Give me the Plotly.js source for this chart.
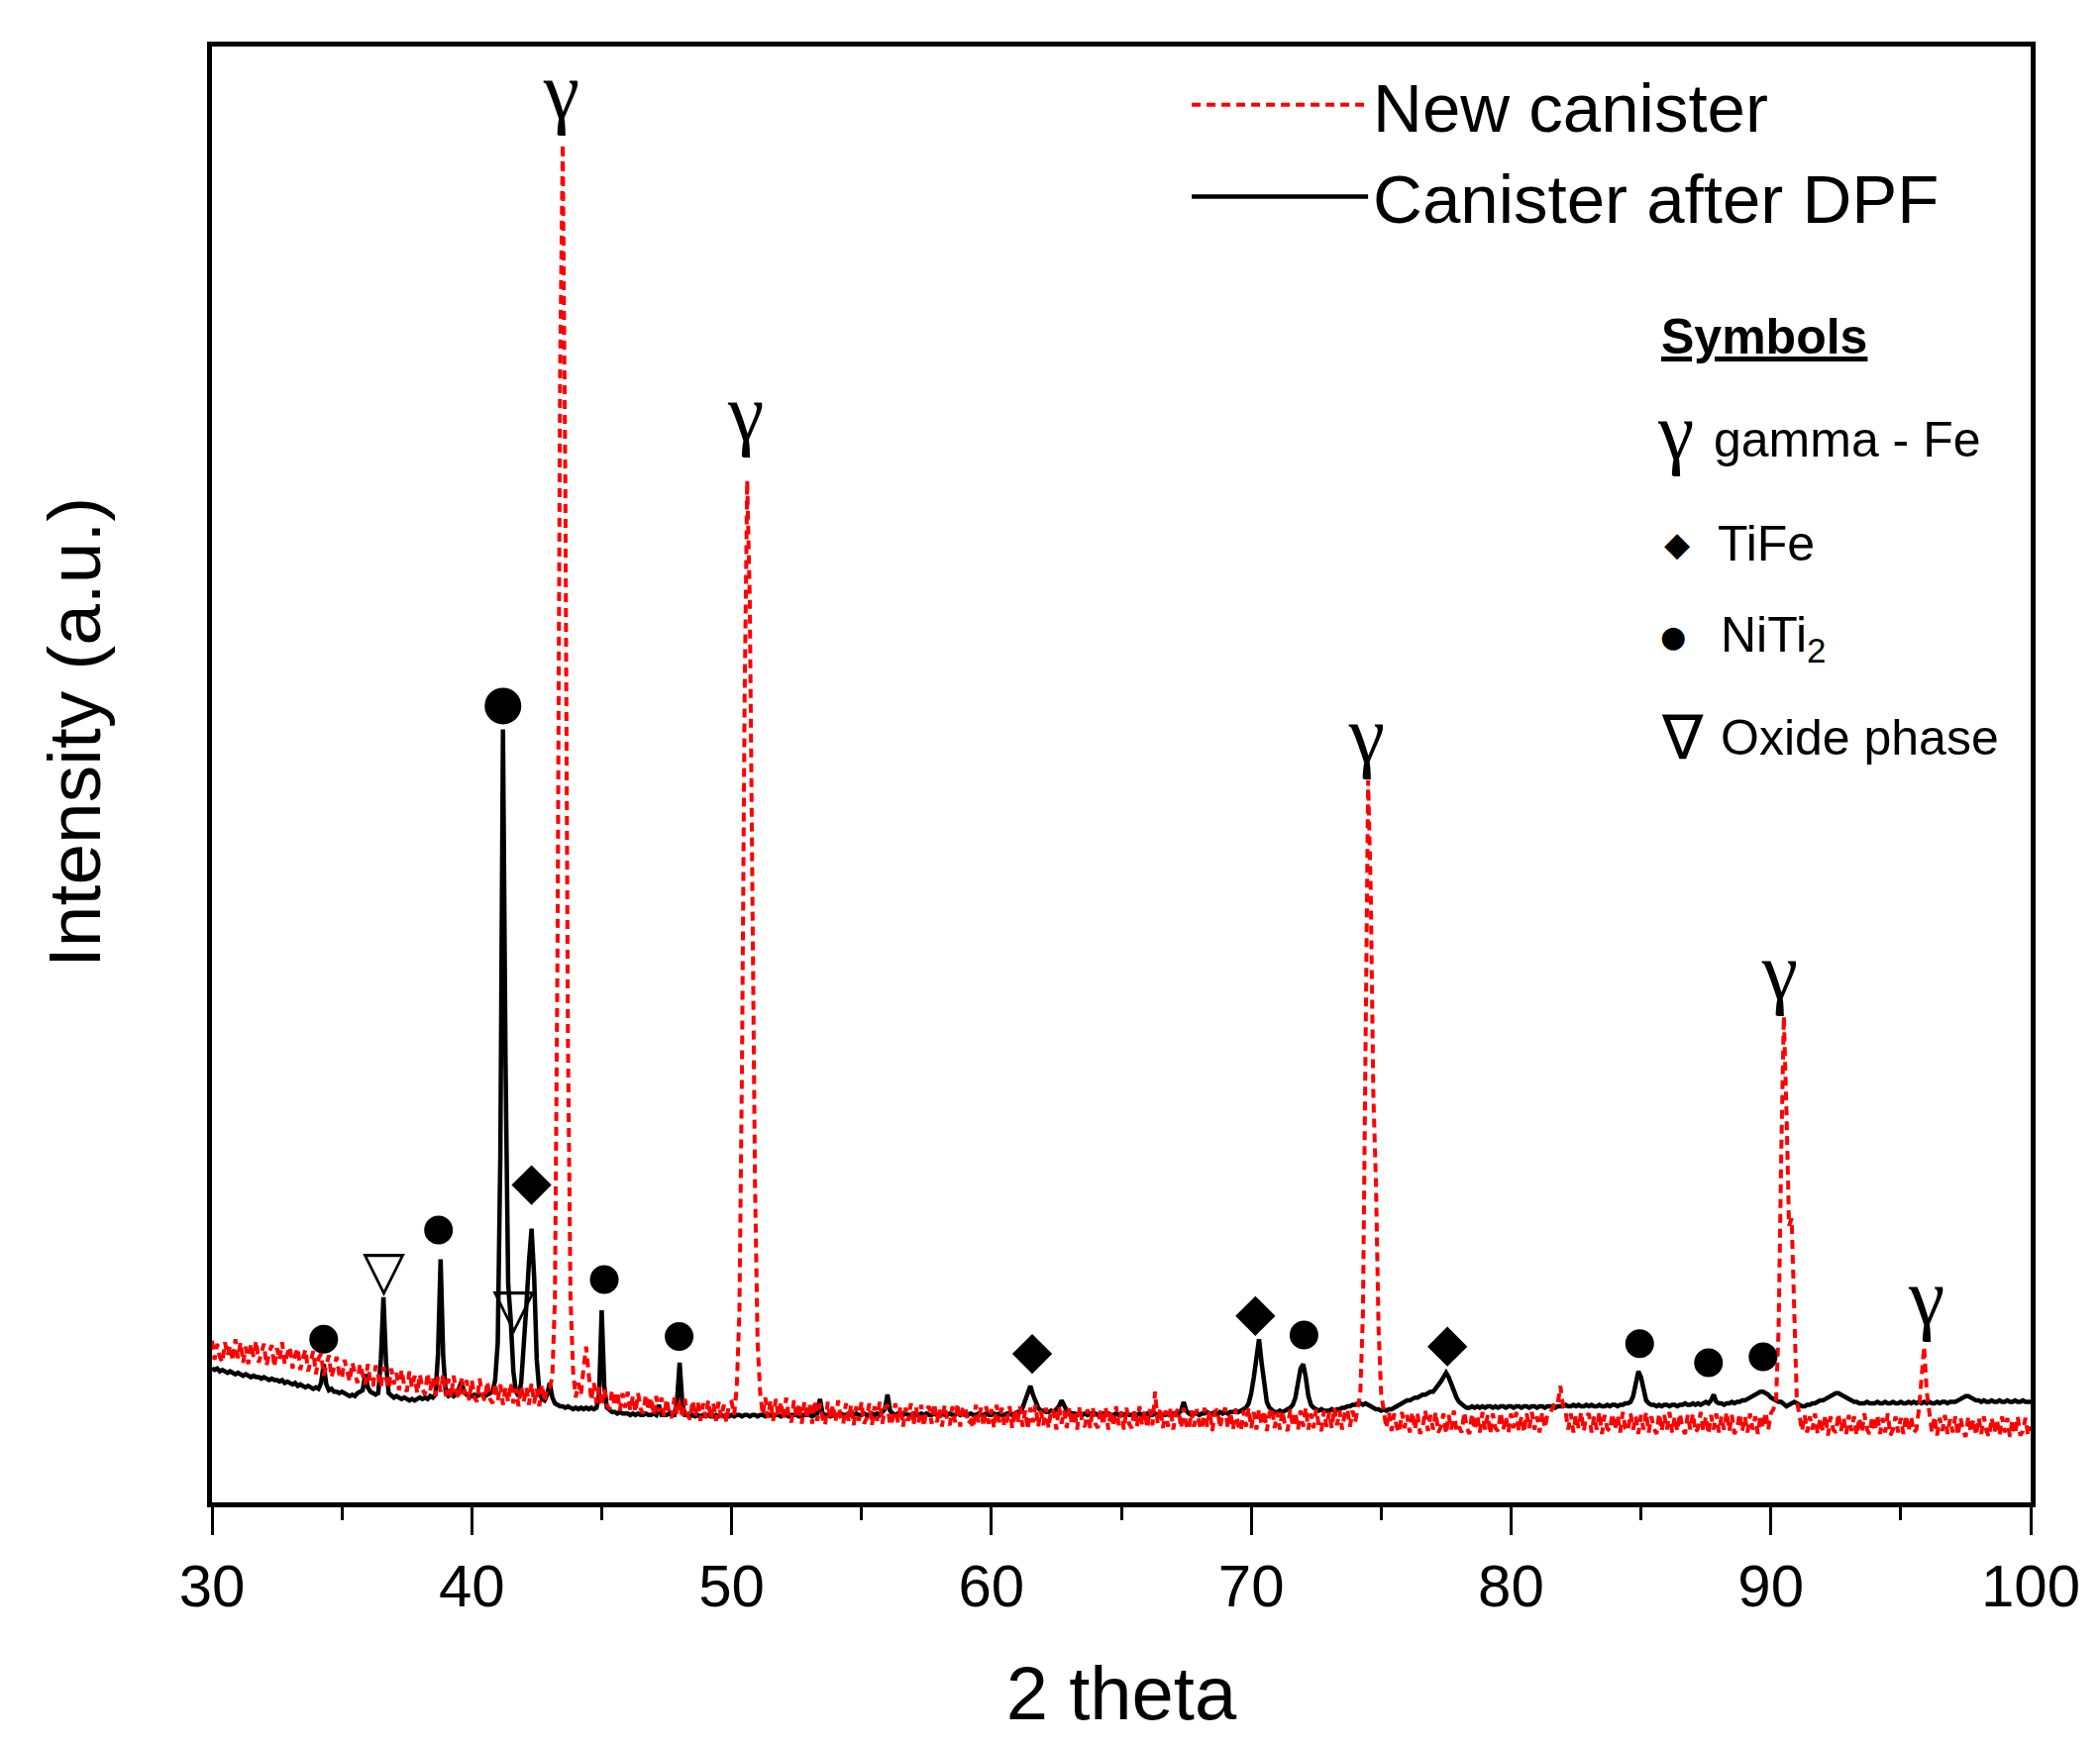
<!DOCTYPE html>
<html>
<head>
<meta charset="utf-8">
<script src="https://cdn.plot.ly/plotly-3.0.1.min.js"></script>
<style>
  html, body { margin: 0; padding: 0; background: #fff; }
  #chart { width: 2120px; height: 1763px; }
</style>
</head>
<body>
<div id="chart"></div>
<script>
// XRD scans, one intensity value (a.u.) every 0.1 deg of 2theta
const thetaStart = 30;
const thetaStep = 0.1;

const newCanisterY = [
  11.1,9.8,10.9,10.0,9.6,11.0,10.1,10.8,9.7,11.2,     // 30
  9.9,11.0,9.6,10.7,9.5,10.9,10.0,11.1,9.6,10.4,      // 31
  10.9,9.4,10.3,10.8,9.3,10.6,9.8,11.0,9.5,10.2,      // 32
  10.7,9.2,10.1,10.6,9.1,9.9,10.5,9.0,9.8,10.4,       // 33
  8.8,9.9,10.2,8.7,9.4,10.1,8.6,9.3,10.0,8.8,         // 34
  8.5,9.8,9.1,8.3,9.6,8.9,8.2,9.5,8.8,8.1,            // 35
  9.5,8.2,8.0,9.4,8.7,7.9,9.3,8.4,7.8,9.2,            // 36
  8.1,8.9,7.7,9.1,8.0,7.6,9.0,7.9,8.7,7.5,            // 37
  8.8,7.8,7.4,8.9,7.7,8.6,7.3,8.6,7.6,8.8,            // 38
  7.3,8.5,7.2,8.7,7.6,7.1,8.5,7.4,8.4,7.0,            // 39
  8.4,7.2,6.9,8.5,7.4,7.0,8.3,7.1,6.8,8.2,            // 40
  7.0,8.1,6.7,7.9,6.9,8.2,6.8,7.8,6.6,8.0,            // 41
  6.9,7.9,6.7,8.2,6.8,7.8,6.6,8.1,6.9,7.9,            // 42
  7.9,8.6,14,38,78,93.3,70,32,14,9.0,                 // 43
  7.2,8.2,7.4,9.2,10.7,8.8,7.0,8.2,6.8,7.9,           // 44
  6.6,7.8,6.7,6.4,7.7,6.6,7.6,6.3,7.5,6.5,            // 45
  7.6,6.3,7.3,6.2,7.5,6.4,6.1,7.4,6.3,7.2,            // 46
  6.0,7.3,6.2,7.2,5.9,7.1,6.1,5.8,7.2,6.0,            // 47
  7.0,5.8,7.1,6.0,5.7,7.0,5.9,6.9,5.6,6.8,            // 48
  5.8,7.0,5.7,6.8,5.6,6.9,5.8,6.7,5.5,6.8,            // 49
  6.9,6.0,8.0,13,30,55,70.2,62,40,22,                 // 50
  11,7.5,6.0,7.2,5.8,7.0,5.6,7.1,5.9,6.9,             // 51
  5.7,7.2,5.9,5.5,7.0,5.8,6.8,5.4,6.9,5.7,            // 52
  6.8,5.4,7.0,5.6,6.8,5.8,5.3,6.9,5.7,6.7,            // 53
  5.5,7.0,5.8,5.4,6.8,5.6,6.7,5.3,6.6,5.6,            // 54
  6.9,5.4,5.8,6.8,5.3,6.6,5.6,6.9,5.4,6.5,            // 55
  6.7,5.3,5.7,6.8,5.5,6.6,5.2,6.5,5.6,6.8,            // 56
  5.3,6.5,5.5,6.7,5.2,6.4,6.6,5.4,6.8,5.5,            // 57
  6.4,5.2,6.7,5.6,5.3,6.6,5.5,6.8,5.2,6.4,            // 58
  6.6,5.4,5.6,5.1,6.7,5.5,6.5,5.2,6.6,5.4,            // 59
  6.4,5.1,6.7,5.5,6.5,5.2,5.6,6.6,5.1,6.4,            // 60
  5.4,6.6,5.2,6.3,5.0,6.5,5.5,6.7,5.2,6.3,            // 61
  5.3,6.5,5.1,6.4,6.2,5.0,6.6,5.4,6.3,5.1,            // 62
  6.5,5.3,6.3,5.0,6.6,5.4,5.2,6.4,5.1,6.5,            // 63
  5.4,5.1,6.4,5.3,6.5,5.0,6.3,5.2,6.6,5.3,            // 64
  6.2,5.0,6.5,5.4,5.1,6.4,5.2,6.6,5.3,6.3,            // 65
  5.1,6.4,5.3,7.6,5.4,6.5,5.1,6.3,5.2,6.5,            // 66
  5.0,6.2,6.4,5.1,6.5,5.3,5.0,6.3,5.2,6.4,            // 67
  5.4,5.0,6.5,5.2,6.3,4.9,6.2,6.4,5.1,6.1,            // 68
  6.5,5.1,6.2,5.0,6.4,5.3,4.9,6.3,5.2,6.5,            // 69
  5.1,6.2,5.0,6.4,5.3,6.3,4.9,6.1,6.5,5.1,            // 70
  6.2,5.0,6.3,5.3,4.9,6.4,5.2,6.2,5.0,6.3,            // 71
  5.2,6.5,5.0,6.1,5.1,6.4,5.3,4.9,6.3,5.2,            // 72
  6.2,5.1,6.5,5.3,6.3,5.0,6.1,6.4,5.2,6.3,            // 73
  5.5,6.4,7.5,13,30,49.6,42,28,22,12,                 // 74
  7.5,6.3,5.1,6.2,4.9,6.1,5.2,4.8,6.2,5.1,            // 75
  6.0,4.8,6.2,5.0,6.1,4.7,5.2,6.3,4.9,6.0,            // 76
  5.0,6.2,4.8,5.2,6.1,4.7,6.0,5.0,6.3,4.9,            // 77
  5.2,4.8,6.2,5.1,4.7,6.1,5.0,6.0,4.8,6.2,            // 78
  5.0,6.0,4.7,6.1,5.1,4.9,6.2,5.0,5.9,4.8,            // 79
  6.1,5.1,6.2,4.9,5.9,4.8,6.1,5.1,6.2,5.0,            // 80
  5.9,4.8,6.2,5.1,6.0,6.1,6.6,6.9,6.8,8.0,            // 81
  6.6,6.2,5.0,6.1,4.8,6.0,5.1,6.2,4.9,5.9,            // 82
  6.1,4.8,5.9,5.0,6.2,4.7,6.0,5.1,4.9,6.1,            // 83
  5.0,6.0,4.8,6.2,5.1,4.9,6.1,5.0,5.9,4.7,            // 84
  6.0,5.0,6.2,4.8,5.9,5.1,4.7,6.1,4.9,6.0,            // 85
  5.0,6.2,4.8,5.9,4.9,6.1,5.1,4.7,6.0,5.0,            // 86
  6.1,4.8,5.1,6.2,4.9,5.9,4.7,6.0,5.0,6.1,            // 87
  4.8,5.9,5.0,6.2,4.9,6.0,4.7,5.1,6.1,4.9,            // 88
  5.9,4.8,6.1,5.0,5.9,4.7,6.0,5.1,6.2,5.0,            // 89
  6.1,6.4,7.0,12,24,33.4,27,19,19.5,12,               // 90
  7.0,6.0,4.9,6.0,4.8,5.9,5.0,6.1,4.7,5.8,            // 91
  4.9,6.0,4.6,5.9,5.0,4.8,6.1,4.9,5.8,4.7,            // 92
  6.0,4.9,5.9,4.6,5.8,4.8,6.1,5.0,4.7,5.9,            // 93
  4.9,6.0,4.7,5.8,4.8,6.1,4.6,5.0,5.9,4.8,            // 94
  5.8,4.7,6.0,4.9,5.9,4.8,5.0,6.4,9.0,10.7,           // 95
  7.6,6.0,4.8,5.9,4.6,5.8,4.9,6.0,4.7,5.7,            // 96
  4.8,5.9,4.6,5.8,4.9,4.5,5.9,4.8,5.7,4.6,            // 97
  5.8,4.7,5.9,4.9,4.5,5.8,4.8,5.7,4.6,5.9,            // 98
  4.8,5.8,4.5,5.7,4.7,5.9,4.6,4.9,5.8,4.6,            // 99
  5.2                                                 // 100
];

const afterDpfY = [
  9.2,9.1,9.2,9.0,9.1,9.0,8.9,9.0,8.9,8.8,            // 30
  8.9,8.8,8.7,8.8,8.7,8.6,8.7,8.6,8.6,8.5,            // 31
  8.6,8.5,8.4,8.5,8.4,8.4,8.3,8.4,8.2,8.3,            // 32
  8.2,8.1,8.2,8.0,8.1,8.0,7.9,8.0,7.9,7.8,            // 33
  7.9,7.8,8.2,9.5,8.1,7.7,7.8,7.6,7.6,7.5,            // 34
  7.6,7.5,7.4,7.3,7.4,7.3,7.5,7.6,7.7,8.8,            // 35
  7.9,7.6,7.5,7.4,7.5,9.8,14.1,9.6,7.5,7.3,           // 36
  7.2,7.3,7.2,7.1,7.2,7.1,7.0,7.1,7.0,7.1,            // 37
  7.2,7.1,7.2,7.1,7.3,7.2,7.4,10.2,16.7,10.0,         // 38
  7.5,7.3,7.4,7.3,7.5,7.8,8.3,7.6,7.4,7.3,            // 39
  7.3,7.4,7.3,7.4,7.4,7.3,7.4,7.5,7.6,8.4,            // 40
  11.0,24,53.1,30,15,12.5,9.0,7.6,7.3,8.2,            // 41
  10.5,13.5,16.5,18.8,15.5,9.8,7.6,7.1,7.0,7.4,       // 42
  8.2,7.2,6.8,6.7,6.6,6.6,6.5,6.6,6.5,6.4,            // 43
  6.5,6.4,6.5,6.4,6.5,6.4,6.5,6.4,6.5,7.4,            // 44
  13.2,8.0,6.5,6.3,6.2,6.2,6.1,6.2,6.1,6.1,           // 45
  6.1,6.0,6.1,6.0,6.1,6.0,6.0,6.1,6.0,6.0,            // 46
  6.1,6.0,6.7,6.0,6.0,6.0,6.1,6.0,6.0,7.0,            // 47
  9.6,6.9,6.0,6.0,5.9,6.0,5.9,6.0,5.9,6.0,            // 48
  5.9,6.0,5.9,5.9,6.0,5.9,6.0,5.9,6.0,5.9,            // 49
  6.0,5.9,6.0,6.0,5.9,6.0,6.0,5.9,6.0,6.0,            // 50
  5.9,6.0,6.0,5.9,6.0,6.0,5.9,6.0,6.0,5.9,            // 51
  6.0,6.0,5.9,6.0,6.0,6.0,5.9,6.0,6.0,6.0,            // 52
  6.0,5.9,6.0,6.1,7.1,6.1,6.0,6.0,5.9,6.0,            // 53
  6.0,6.0,6.1,6.0,6.0,6.1,6.0,6.0,6.1,6.0,            // 54
  6.0,6.1,6.0,6.0,6.1,6.0,6.1,6.0,6.2,6.4,            // 55
  7.4,6.3,6.1,6.0,6.1,6.0,6.0,6.1,6.0,6.0,            // 56
  6.1,6.0,6.0,6.1,6.0,6.1,6.0,6.0,6.1,6.0,            // 57
  6.0,6.1,6.0,6.0,6.1,6.0,6.0,6.1,6.0,6.1,            // 58
  6.0,6.0,6.1,6.0,6.0,6.1,6.0,6.0,6.1,6.0,            // 59
  6.0,6.1,6.0,6.1,6.0,6.0,6.1,6.1,6.0,6.1,            // 60
  6.2,6.2,6.5,7.0,7.6,8.0,7.4,6.9,6.5,6.3,            // 61
  6.3,6.2,6.2,6.3,6.2,6.4,6.6,7.0,6.6,6.3,            // 62
  6.2,6.1,6.1,6.0,6.1,6.0,6.1,6.0,6.1,6.0,            // 63
  6.1,6.0,6.0,6.1,6.0,6.1,6.0,6.0,6.1,6.0,            // 64
  6.1,6.0,6.1,6.0,6.0,6.1,6.0,6.1,6.0,6.0,            // 65
  6.1,6.0,6.0,6.1,6.0,6.1,6.0,6.0,6.1,6.0,            // 66
  6.1,6.0,6.1,6.3,6.9,6.3,6.1,6.0,6.1,6.1,            // 67
  6.0,6.1,6.1,6.2,6.1,6.1,6.2,6.1,6.2,6.1,            // 68
  6.2,6.1,6.2,6.2,6.3,6.2,6.3,6.4,6.5,6.8,            // 69
  7.5,8.6,10.0,11.2,9.6,8.0,6.9,6.5,6.3,6.2,          // 70
  6.2,6.3,6.2,6.3,6.4,6.5,6.7,7.2,8.2,9.2,            // 71
  9.5,8.6,7.3,6.7,6.5,6.4,6.3,6.4,6.3,6.3,            // 72
  6.3,6.4,6.3,6.4,6.4,6.5,6.5,6.6,6.6,6.7,            // 73
  6.7,6.8,6.8,6.7,6.8,6.7,6.6,6.5,6.4,6.4,            // 74
  6.3,6.4,6.3,6.4,6.4,6.5,6.6,6.7,6.8,6.9,            // 75
  7.0,7.0,7.1,7.2,7.2,7.3,7.4,7.4,7.5,7.6,            // 76
  7.6,7.8,8.0,8.3,8.6,8.9,8.6,8.1,7.6,7.2,            // 77
  6.9,6.7,6.6,6.5,6.5,6.6,6.5,6.6,6.5,6.6,            // 78
  6.5,6.6,6.6,6.5,6.6,6.5,6.6,6.6,6.5,6.6,            // 79
  6.6,6.5,6.6,6.6,6.5,6.6,6.6,6.5,6.6,6.6,            // 80
  6.5,6.6,6.6,6.5,6.6,6.6,6.6,6.5,6.6,6.6,            // 81
  6.6,6.7,6.6,6.6,6.7,6.6,6.7,6.6,6.6,6.7,            // 82
  6.6,6.7,6.6,6.6,6.7,6.6,6.6,6.7,6.6,6.7,            // 83
  6.7,6.6,6.7,6.7,6.8,6.8,6.9,7.3,8.2,9.0,            // 84
  8.6,7.7,7.0,6.8,6.7,6.7,6.6,6.7,6.6,6.7,            // 85
  6.7,6.6,6.7,6.7,6.6,6.7,6.7,6.8,6.7,6.7,            // 86
  6.8,6.7,6.8,6.7,6.8,6.9,6.8,7.0,7.4,6.9,            // 87
  6.8,6.8,6.7,6.8,6.8,6.9,6.8,6.9,6.9,7.0,            // 88
  7.0,7.1,7.2,7.3,7.4,7.5,7.6,7.6,7.5,7.4,            // 89
  7.2,7.1,7.0,6.9,6.9,6.7,6.6,6.7,6.8,6.9,            // 90
  6.8,6.7,6.6,6.6,6.7,6.7,6.8,6.8,6.9,7.0,            // 91
  7.0,7.1,7.2,7.3,7.4,7.5,7.5,7.4,7.3,7.2,            // 92
  7.1,7.0,6.9,6.9,6.8,6.8,6.8,6.9,6.8,6.8,            // 93
  6.8,6.9,6.8,6.8,6.9,6.8,6.8,6.9,6.8,6.8,            // 94
  6.9,6.8,6.8,6.9,6.8,6.9,6.8,6.9,6.8,6.9,            // 95
  6.8,6.9,6.8,6.8,6.9,6.8,6.9,6.9,6.8,6.9,            // 96
  6.9,6.9,7.0,7.1,7.2,7.3,7.3,7.2,7.1,7.0,            // 97
  7.0,6.9,7.0,6.9,6.9,7.0,6.9,6.9,7.0,6.9,            // 98
  6.9,7.0,6.9,6.9,7.0,6.9,6.9,7.0,6.9,6.9,            // 99
  6.9                                                 // 100
];

// phase labels placed over the peaks
const gammaX = [43.45, 50.55, 74.45, 90.35, 96.0];
const gammaY = [96.5, 74.4, 52.3, 36.0, 13.65];
const nitiX = [34.3, 38.72, 45.1, 47.98, 72.03, 84.95, 87.6, 89.7];
const nitiY = [11.2, 18.7, 15.3, 11.4, 11.5, 10.9, 9.6, 10.0];
const nitiMainX = [41.2];
const nitiMainY = [54.7];
const tifeX = [42.3, 61.57, 70.16, 77.55];
const tifeY = [21.8, 10.2, 12.8, 10.7];
const oxideX = [36.62, 41.62];
const oxideY = [15.6, 13.0];

const xTicks = [30, 40, 50, 60, 70, 80, 90, 100];

const sans = 'Liberation Sans, Arial, sans-serif';
const serif = 'Liberation Serif, Times New Roman, serif';

function thetaAxis(values) {
  return values.map((v, i) => Math.round((thetaStart + i * thetaStep) * 10) / 10);
}

let traces = [
  {
    x: thetaAxis(afterDpfY), y: afterDpfY,
    type: 'scatter', mode: 'lines', name: 'Canister after DPF',
    line: {color: '#000000', width: 4.5}
  },
  {
    x: thetaAxis(newCanisterY), y: newCanisterY,
    type: 'scatter', mode: 'lines', name: 'New canister',
    line: {color: '#ff0000', width: 4, dash: '9px,6px'}
  },
  {
    x: gammaX, y: gammaY, type: 'scatter', mode: 'text', text: gammaX.map(() => 'γ'),
    textfont: {family: serif, size: 82, color: '#000'}, showlegend: false, cliponaxis: false
  },
  {
    x: nitiX, y: nitiY, type: 'scatter', mode: 'markers', showlegend: false,
    marker: {symbol: 'circle', size: 29, color: '#000'}
  },
  {
    x: nitiMainX, y: nitiMainY, type: 'scatter', mode: 'markers', showlegend: false,
    marker: {symbol: 'circle', size: 37, color: '#000'}
  },
  {
    x: tifeX, y: tifeY, type: 'scatter', mode: 'markers', showlegend: false,
    marker: {symbol: 'diamond', size: 31, color: '#000'}
  },
  {
    x: oxideX, y: oxideY, type: 'scatter', mode: 'text', text: oxideX.map(() => '▽'),
    textfont: {family: 'DejaVu Sans', size: 56, color: '#000'}, showlegend: false, cliponaxis: false
  }
];

// symbol key on the right (paper coordinates)
function keyText(x, y, text, size, family, anchor) {
  return {
    xref: 'paper', yref: 'paper', x: x, y: y, text: text, showarrow: false,
    xanchor: anchor || 'left', yanchor: 'middle',
    font: {family: family || sans, size: size, color: '#000'}
  };
}

let layout = {
  width: 2120,
  height: 1763,
  margin: {l: 214, r: 70, t: 47, b: 246},
  paper_bgcolor: '#ffffff',
  plot_bgcolor: '#ffffff',
  font: {family: sans, color: '#000'},
  showlegend: true,
  legend: {
    x: 0.536, y: 0.995, xanchor: 'left', yanchor: 'top',
    traceorder: 'reversed',
    bgcolor: 'rgba(0,0,0,0)', borderwidth: 0,
    itemwidth: 178,
    font: {family: sans, size: 69, color: '#000'}
  },
  xaxis: {
    range: [30, 100],
    tickvals: xTicks,
    ticktext: xTicks.map(String),
    ticks: 'outside', ticklen: 28, tickwidth: 3, tickcolor: '#000',
    minor: {dtick: 5, tick0: 30, ticks: 'outside', ticklen: 13, tickwidth: 3, tickcolor: '#000', showgrid: false},
    showline: true, linewidth: 5, linecolor: '#000', mirror: true,
    showgrid: false, zeroline: false,
    tickfont: {family: sans, size: 60, color: '#000'},
    title: {text: '2 theta', font: {family: sans, size: 76, color: '#000'}, standoff: 50}
  },
  yaxis: {
    range: [0, 100],
    showticklabels: false, ticks: '',
    showline: true, linewidth: 5, linecolor: '#000', mirror: true,
    showgrid: false, zeroline: false
  },
  annotations: [
    {
      xref: 'paper', yref: 'paper', x: -0.0757, y: 0.5286, textangle: -90,
      text: 'Intensity (a.u.)', showarrow: false, xanchor: 'center', yanchor: 'middle',
      font: {family: sans, size: 75, color: '#000'}
    },
    keyText(0.7958, 0.8007, '<b><u>Symbols</u></b>', 50),
    keyText(0.805, 0.736, 'γ', 82, serif, 'center'),
    keyText(0.8246, 0.7299, 'gamma - Fe', 50),
    keyText(0.8061, 0.6585, '◆', 34, 'DejaVu Sans', 'center'),
    keyText(0.8268, 0.6585, 'TiFe', 50),
    keyText(0.8034, 0.5946, '●', 30, 'DejaVu Sans', 'center'),
    keyText(0.8283, 0.5932, 'NiTi<sub>2</sub>', 50),
    keyText(0.8083, 0.5252, '∇', 62, 'DejaVu Sans', 'center'),
    keyText(0.8283, 0.5252, 'Oxide phase', 50)
  ]
};

Plotly.newPlot('chart', traces, layout, {displayModeBar: false, responsive: false});
</script>
</body>
</html>
